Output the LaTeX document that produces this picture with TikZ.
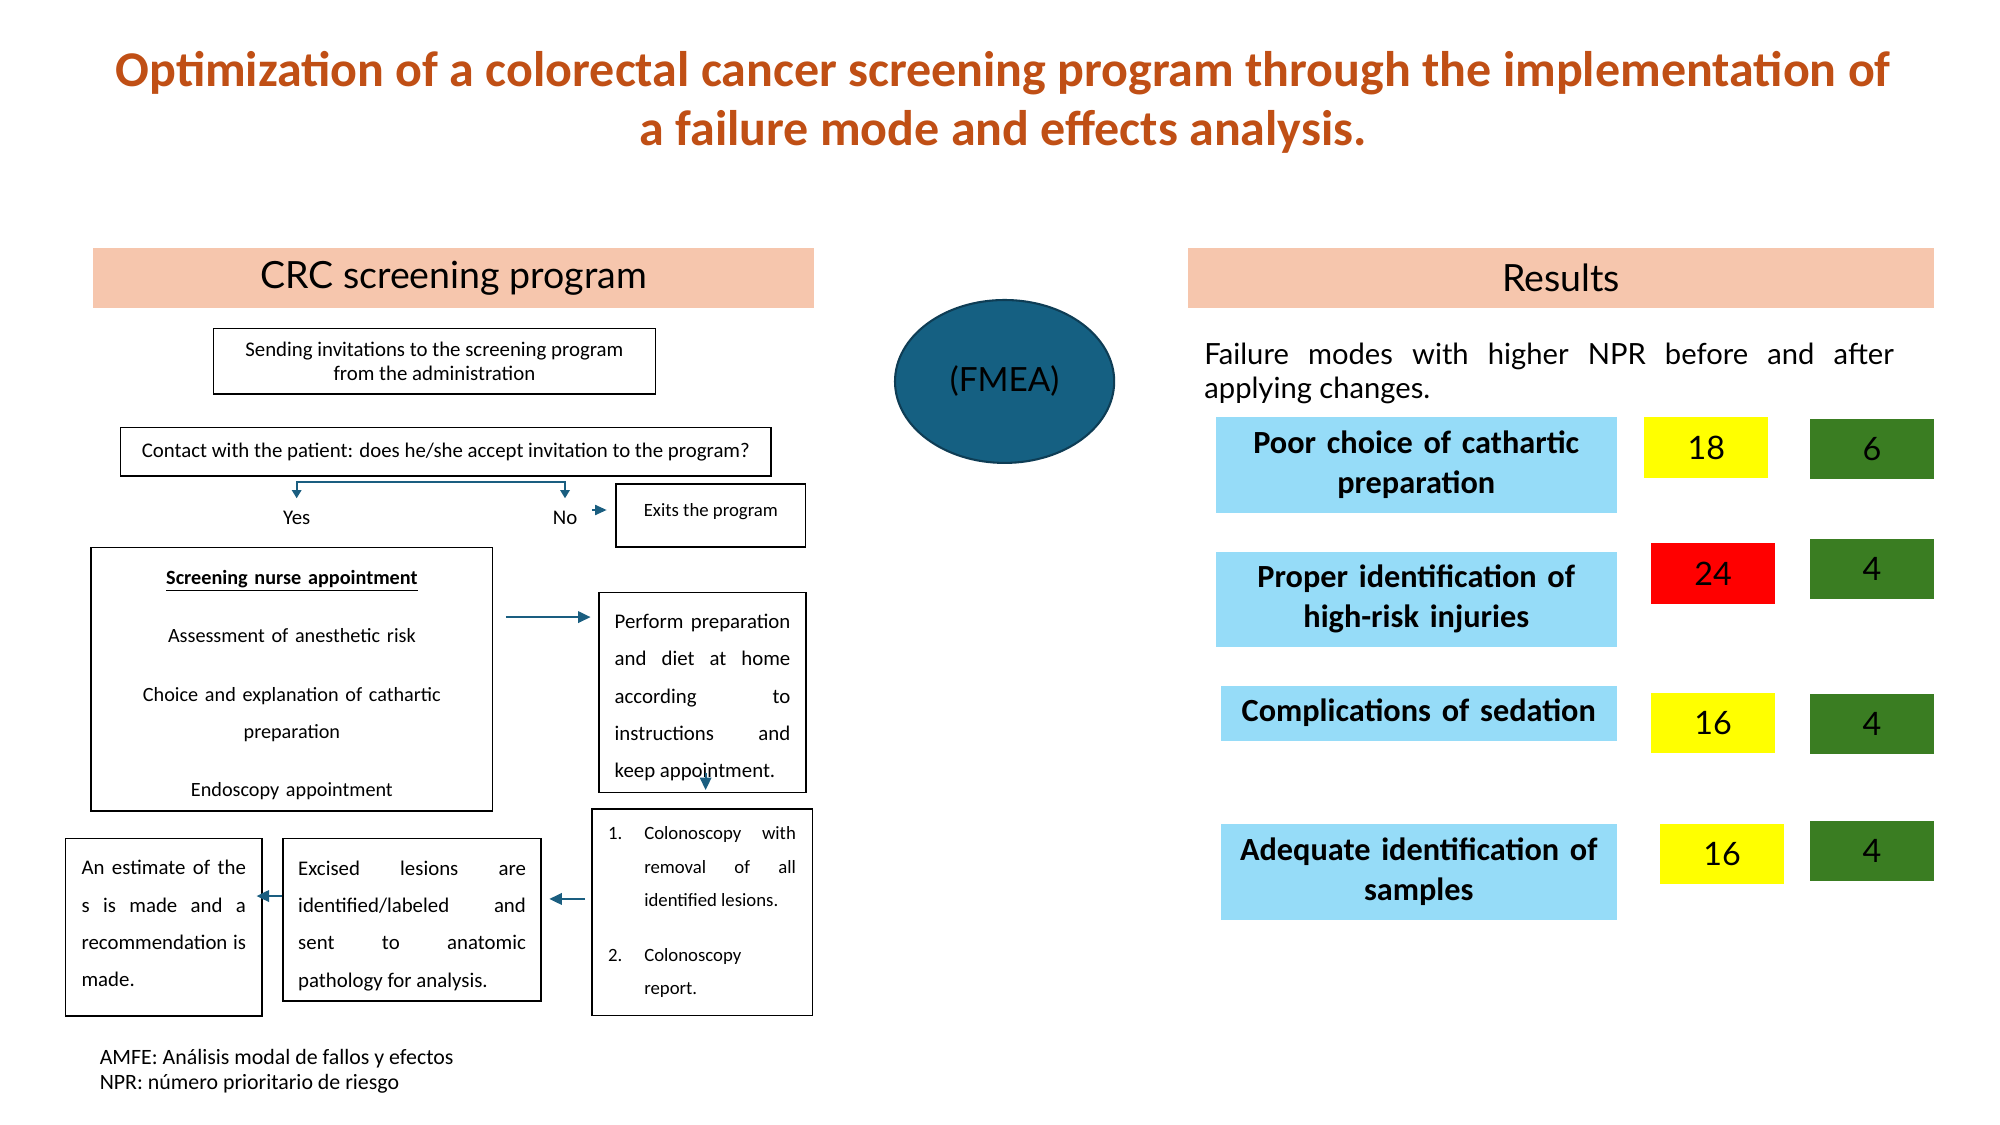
\documentclass[tikz,border=0pt]{standalone}
\usepackage{fontspec}
\setmainfont{Carlito}
\newfontfamily\aptos{Lato}
\usetikzlibrary{arrows.meta,shapes.geometric}
\definecolor{titleor}{HTML}{C04F15}
\definecolor{peach}{HTML}{F6C6AD}
\definecolor{skyb}{HTML}{96DCF8}
\definecolor{fmeablue}{HTML}{156082}
\definecolor{fmeaedge}{HTML}{0E3D55}
\definecolor{flowblue}{HTML}{1A5E80}
\definecolor{hiyellow}{HTML}{FFFF00}
\definecolor{hired}{HTML}{FF0000}
\definecolor{lowgreen}{HTML}{3A7D22}
\hyphenpenalty=10000
\exhyphenpenalty=10000

\begin{document}
\begin{tikzpicture}[x=1pt, y=-1pt,
    box/.style = {draw, line width=0.75pt, inner sep=0pt},
    head/.style = {fill=peach, minimum width=346pt, minimum height=28.8pt, font=\aptos\fontsize{18}{22}\selectfont},
    mode/.style = {fill=skyb, minimum width=192.5pt, minimum height=45.8pt, inner sep=0pt, text width=185pt, align=center, font=\bfseries\fontsize{15.5}{19.2}\selectfont},
    score/.style = {minimum width=59.7pt, minimum height=29pt, font=\aptos\fontsize{15.5}{19}\selectfont},
    flow/.style = {draw=flowblue, line width=1pt, -{Triangle[length=6pt, width=5.5pt]}},
    forkflow/.style = {draw=flowblue, line width=1pt, -{Triangle[length=4pt, width=4.5pt]}},
    lbl/.style = {font=\fontsize{10}{12}\selectfont}]
    \fill[white] (0,0) rectangle (960,540);
    \useasboundingbox (0,0) rectangle (960,540);

    \node[align=center, text=titleor, font=\bfseries\fontsize{24}{28.4}\selectfont] (title) at (481.5,49) {Optimization of a colorectal cancer screening program through the implementation of\\ a failure mode and effects analysis.};

    \node[head] (crc) at (217.7,133.6) {CRC screening program};
    \node[head, minimum width=358pt] (res) at (749.3,133.6) {Results};
    \node[ellipse, draw=fmeaedge, fill=fmeablue, line width=1pt, minimum width=105.2pt, minimum height=78.2pt, inner sep=0pt, font=\aptos\fontsize{16}{20}\selectfont] (fmea) at (482.2,183.1) {(FMEA)};

    \node[box, minimum width=212.2pt, minimum height=31.5pt, align=center, font=\fontsize{10}{11.8}\selectfont] (send) at (208.5,173.4) {Sending invitations to the screening program\\ from the administration};
    \node[box, minimum width=312.2pt, minimum height=23.4pt, lbl] (contact) at (214,216.8) {Contact with the patient: does he/she accept invitation to the program?};
    \coordinate (fork) at (206.8,231.5);
    \node[lbl, anchor=north, inner ysep=5.9pt] (yes) at (142.4,239.2) {Yes};
    \node[lbl, anchor=north, inner ysep=5.9pt] (no) at (271.2,239.2) {No};
    \node[box, minimum width=91pt, text height=15.7pt, text depth=14.6pt, font=\fontsize{9}{11}\selectfont] (exits) at (341.2,247.5) {Exits the program};
    \draw[forkflow] (fork) -| (yes);
    \draw[forkflow] (fork) -| (no);
    \draw[flow, -{Triangle[length=5.6pt, width=4.8pt]}, shorten <=3.6pt, shorten >=4.1pt] ([yshift=2.7pt]no.east |- exits.west) -- ([yshift=2.7pt]exits.west);

    \node[box, minimum width=192.8pt, minimum height=126.6pt, text width=190pt, align=center, font=\fontsize{9.7}{18}\selectfont] (nurse) at (140.1,326) {\underline{\textbf{Screening nurse appointment}}\\[10pt] Assessment of anesthetic risk\\[10pt] Choice and explanation of cathartic\\ preparation\\[10pt] Endoscopy appointment\vspace{-5.8pt}};
    \node[box, minimum width=99.5pt, minimum height=96.2pt, text width=84.3pt, align=justify, font=\fontsize{10}{17.9}\selectfont] (perform) at (337.2,332.4) {Perform~preparation\linebreak and~diet~at~home\linebreak according~to\linebreak instructions~and\linebreak keep~appointment.\vspace{-5pt}};
    \node[box, minimum width=105.9pt, minimum height=99.2pt, text width=90.1pt, align=justify, font=\fontsize{9}{16}\selectfont] (colon) at (337,437.9) {\leavevmode\hangindent=17.3pt \hangafter=0 \llap{\makebox[17.3pt][l]{1.}}Colonoscopy~with\linebreak removal~of~all\linebreak identified~lesions.\par\vspace{10.4pt}
        \leavevmode\hangindent=17.3pt \hangafter=0 \llap{\makebox[17.3pt][l]{2.}}Colonoscopy\linebreak report.\vspace{-5.1pt}\par};
    \node[box, minimum width=124pt, minimum height=78.2pt, text width=109.3pt, align=justify, font=\fontsize{10}{17.9}\selectfont] (excised) at (197.8,441.5) {Excised~lesions~are\linebreak identified/labeled~and\linebreak sent~to~anatomic\linebreak pathology~for~analysis.\vspace{-5.7pt}};
    \node[box, minimum width=94.3pt, minimum height=85.1pt, text width=78.9pt, align=justify, font=\fontsize{10}{17.9}\selectfont] (estimate) at (78.6,445) {An~estimate~of~the\linebreak s~is~made~and~a\linebreak recommendation~is\linebreak made.\vspace{3.3pt}};
    \draw[flow, shorten <=6pt, shorten >=3.6pt] ([yshift=29.8pt]nurse.east) -- ([yshift=29.8pt]nurse.east -| perform.west);
    \draw[flow, shorten >=8.7pt] ([xshift=1.5pt, yshift=9.9pt]perform.south) -- ([xshift=1.5pt]perform.south |- colon.north);
    \draw[flow, shorten <=2.8pt, shorten >=3.5pt] ([yshift=6.4pt]colon.west) -- ([yshift=6.4pt]colon.west -| excised.east);
    \draw[flow, shorten >=-3pt] ([yshift=11.4pt]excised.west) -- ([yshift=11.4pt]excised.west -| estimate.east);

    \node[anchor=north west, inner sep=0pt, align=left, font=\fontsize{10.5}{11.7}\selectfont] (note) at (47.7,503.6) {AMFE: Análisis modal de fallos y efectos\\ NPR: número prioritario de riesgo};

    \node[anchor=north west, inner sep=0pt, text width=330.9pt, align=justify, font=\aptos\fontsize{14}{16.3}\selectfont] (fail) at (577.9,164.3) {Failure modes with higher NPR before and after\linebreak applying changes.};
    \node[mode] (m1) at (679.8,223.2) {Poor choice of cathartic\\ preparation};
    \node[mode, minimum height=45.6pt] (m2) at (679.8,287.6) {Proper identification of\\ high-risk injuries};
    \node[mode, minimum width=190.1pt, minimum height=26.4pt] (m3) at (681,342.3) {Complications of sedation};
    \node[mode, minimum width=190.1pt, minimum height=46.1pt] (m4) at (681,418.6) {Adequate identification of\\ samples};
    \node[score, fill=hiyellow] (s1) at (819,214.8) {18};
    \node[score, fill=lowgreen] (t1) at (898.6,215.6) {6};
    \node[score, fill=hired] (s2) at (822.3,275.2) {24};
    \node[score, fill=lowgreen] (t2) at (898.6,273) {4};
    \node[score, fill=hiyellow] (s3) at (822.3,347) {16};
    \node[score, fill=lowgreen] (t3) at (898.6,347.4) {4};
    \node[score, fill=hiyellow] (s4) at (826.6,409.9) {16};
    \node[score, fill=lowgreen] (t4) at (898.6,408.6) {4};
\end{tikzpicture}
\end{document}
